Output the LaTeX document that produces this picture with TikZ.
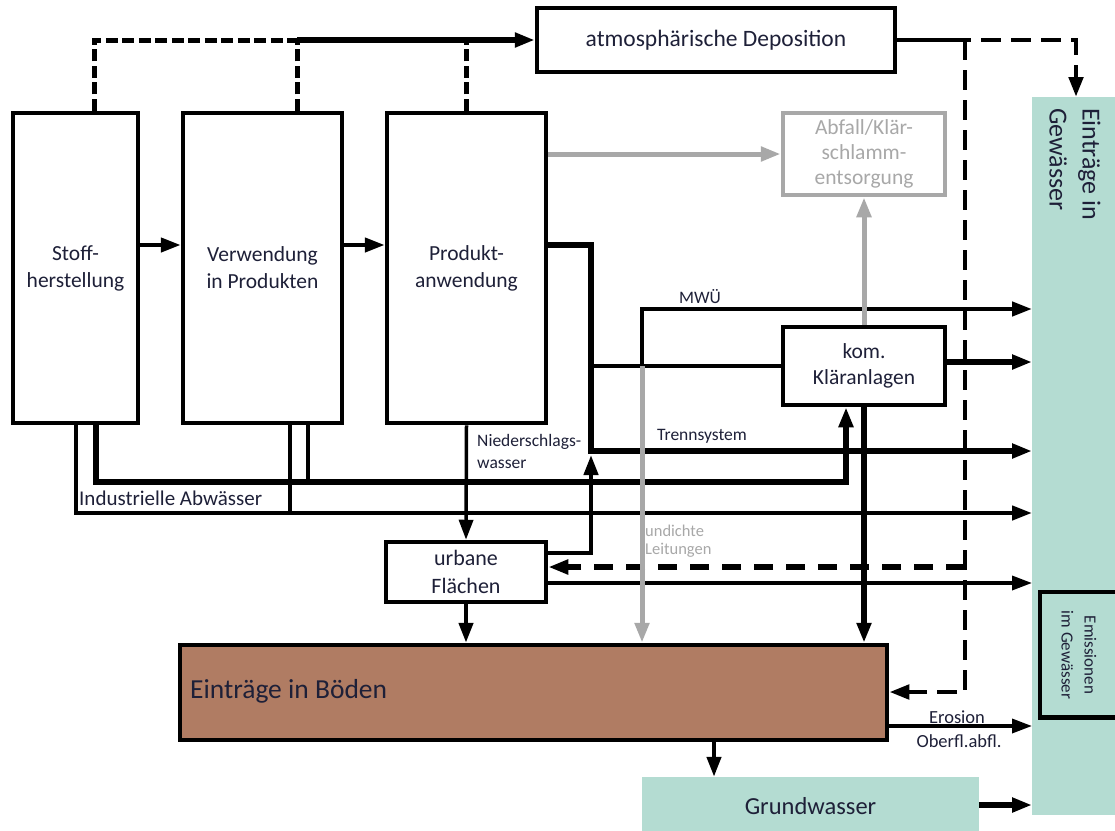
\documentclass[tikz,border=0pt]{standalone}
\usepackage{fontspec}
\setmainfont{Carlito}
\usetikzlibrary{arrows.meta}
\definecolor{tealc}{HTML}{B4DCD2}
\definecolor{soil}{HTML}{B07C63}
\definecolor{grayc}{HTML}{A8A8A8}
\definecolor{txt}{HTML}{1E2038}
\begin{document}
\begin{tikzpicture}[x=1pt,y=-1pt,
  box/.style={draw, line width=4.5pt, inner sep=0pt, align=center, text=txt,
    font=\fontsize{21.5}{27}\selectfont},
  graybox/.style={box, draw=grayc, text=grayc},
  tip/.style={-{Triangle[length=20pt,width=14pt]}},
  thinl/.style={line width=3.5pt},
  medl/.style={line width=4.3pt},
  thickl/.style={line width=5.2pt},
  thickestl/.style={line width=6pt},
  grayl/.style={line width=5pt, draw=grayc},
  dA/.style={line width=5pt, dash pattern=on 12pt off 4.5pt},
  dB/.style={line width=4.7pt, dash pattern=on 20pt off 10pt},
  dC/.style={line width=5.5pt, dash pattern=on 19pt off 13pt},
  lbl/.style={text=txt, inner sep=0pt, font=\fontsize{17.5}{22}\selectfont},
  line join=miter
]
\useasboundingbox (0,0) rectangle (1115,830);
\fill[white] (0,0) rectangle (1115,830);

% teal areas
\node[fill=tealc, inner sep=0pt, minimum width=90pt, minimum height=718pt, anchor=north west] (gew) at (1032,97) {};
\node[rotate=-90, anchor=west, align=left, inner sep=0pt, text=txt, font=\fontsize{26}{33}\selectfont] (gewtxt) at (1075,108) {Einträge in\\Gewässer};
\node[inner sep=0pt, minimum width=90pt, minimum height=125pt, anchor=north west] (emis) at (1040,592) {};
\draw[line width=4.5pt] (emis.north east) -- (emis.north west) -- (emis.south west) -- (emis.south east);
\node[rotate=-90, align=center, inner sep=0pt, text=txt, font=\fontsize{17}{23}\selectfont] (emistxt) at (1079,655) {Emissionen\\im Gewässer};

\node[fill=tealc, inner sep=0pt, minimum width=337pt, minimum height=58pt, text=txt, font=\fontsize{24.5}{28}\selectfont] (grund) at (810.5,806) {Grundwasser};

% boxes
\node[box, minimum width=125pt, minimum height=310pt] (stoff) at (75.5,268) {Stoff-\\herstellung};
\node[box, minimum width=159pt, minimum height=310pt] (verw) at (262.5,268) {Verwendung\\in Produkten};
\node[box, minimum width=159pt, minimum height=310pt] (prod) at (466.5,268) {Produkt-\\anwendung};
\node[box, minimum width=358pt, minimum height=64pt, font=\fontsize{23.5}{28}\selectfont] (atmos) at (716,40) {atmosphärische Deposition};
\node[graybox, minimum width=162pt, minimum height=82pt, font=\fontsize{21.5}{25}\selectfont] (abfall) at (864,154) {Abfall/Klär-\\schlamm-\\entsorgung};
\node[box, minimum width=162pt, minimum height=78pt, font=\fontsize{21.5}{26}\selectfont] (kom) at (864,366) {kom.\\Kläranlagen};
\node[box, minimum width=160pt, minimum height=60pt, font=\fontsize{22}{28}\selectfont] (urb) at (466,572) {urbane\\Flächen};
\node[box, fill=soil, minimum width=707pt, minimum height=95pt] (boden) at (533.5,692.5) {};
\node[anchor=west, inner sep=0pt, text=txt, font=\fontsize{27.5}{30}\selectfont] (bodentxt) at (190,691) {Einträge in Böden};

% helper coordinates
\coordinate (Y245) at (0,245);
\coordinate (ta) at (94,40);
\coordinate (tb) at (297,40);
\coordinate (tc) at (466.5,40);
\coordinate (rs) at (951,40);
\coordinate (rv) at (965,40);
\coordinate (rb) at (1076,40);
\coordinate (rw) at (965,692);
\coordinate (ru) at (965,567);
\coordinate (pa) at (591,245);
\coordinate (pk) at (591,366);
\coordinate (pb) at (591,451);
\coordinate (pc) at (591,455);
\coordinate (ma) at (642,366);
\coordinate (mb) at (642,309);
\coordinate (ky) at (0,362);
\coordinate (ia) at (96,482);
\coordinate (ib) at (846,482);
\coordinate (ic) at (308,482);
\coordinate (ja) at (76,513);
\coordinate (jb) at (290,513);
\coordinate (ua) at (591,553);
\coordinate (uy) at (0,583);
\coordinate (gx) at (714,0);
\coordinate (ey) at (0,726);
\coordinate (gy) at (0,805);

% chain arrows
\draw[medl, tip] (stoff.east |- Y245) -- (verw.west |- Y245);
\draw[medl, tip] (verw.east |- Y245) -- (prod.west |- Y245);

% atmospheric paths
\draw[dA] (stoff.north -| ta) -- (ta) -- (tb);
\draw[dA] (verw.north -| tb) -- (tb);
\draw[dA] (prod.north) -- (tc);
\draw[thickl, tip] (tb) -- (atmos.west |- tb);
\draw[medl] (atmos.east) -- (rs);
\draw[dB, tip] (rs) -- (rb) -- (gew.north -| rb);
\draw[dB, tip] (rv) -- (rw) -- (boden.east |- rw);
\draw[dC, tip] (ru) -- (urb.east |- ru);

% produkt outputs
\draw[thickl, tip] (prod.east |- pa) -- (pa) -- (pb) -- (gew.west |- pb);
\draw[thinl] (pk) -- (kom.west);
\draw[medl, tip] (ma) -- (mb) -- (gew.west |- mb);
\draw[thickl, tip] (kom.east |- ky) -- (gew.west |- ky);

% industrial waste water
\draw[thickestl, tip] (stoff.south -| ia) -- (ia) -- (ib) -- (kom.south -| ib);
\draw[thinl] (verw.south -| ic) -- (ic);
\draw[medl, tip] (stoff.south -| ja) -- (ja) -- (gew.west |- ja);
\draw[thinl] (verw.south -| jb) -- (jb);

% urban
\draw[thinl, tip] (prod.south) -- (urb.north);
\draw[medl, tip] (urb.east |- ua) -- (ua) -- (pc);
\draw[thinl, tip] (urb.east |- uy) -- (gew.west |- uy);
\draw[medl, tip] (urb.south) -- (boden.north -| urb.south);

% kläranlage to soil
\draw[thickl, tip] (kom.south) -- (boden.north -| kom.south);

% soil outputs
\draw[medl, tip] (boden.south -| gx) -- (grund.north -| gx);
\draw[thinl, tip] (boden.east |- ey) -- (gew.west |- ey);
\draw[thickl, tip] (grund.east |- gy) -- (gew.west |- gy);

% gray flows
\draw[grayl, tip] (prod.east |- abfall.west) -- (abfall.west);
\draw[grayl, tip] (kom.north) -- (abfall.south);
\draw[grayl, tip] (ma) -- (boden.north -| ma);

% labels
\node[lbl, anchor=west] (lmwu) at (679,297) {MWÜ};
\node[lbl, anchor=west] (ltrenn) at (657,436) {Trennsystem};
\node[lbl, anchor=west, align=left] (lnied) at (477,451) {Niederschlags-\\wasser};
\node[lbl, anchor=west, font=\fontsize{21}{24}\selectfont] (lind) at (79,498) {Industrielle Abwässer};
\node[lbl, anchor=west, align=left, text=grayc, font=\fontsize{16.5}{18.5}\selectfont] (lund) at (645,541) {undichte\\Leitungen};
\node[lbl, font=\fontsize{18.5}{22}\selectfont] (lero) at (957,717) {Erosion};
\node[lbl, font=\fontsize{18.5}{22}\selectfont] (lober) at (959,741) {Oberfl.abfl.};
\end{tikzpicture}
\end{document}
